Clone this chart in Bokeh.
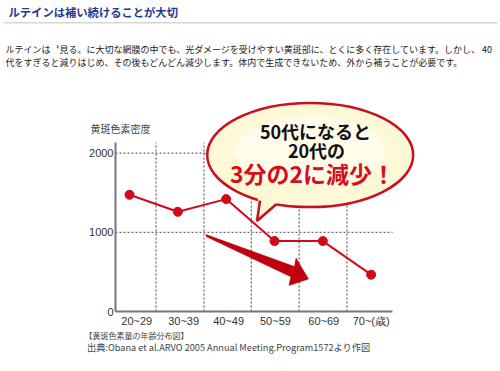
from bokeh.plotting import figure
from bokeh.models import Label, FixedTicker, Range1d, BoxAnnotation, ColumnDataSource
from bokeh.core.properties import value
from bokeh.embed import file_html
from bokeh.resources import INLINE

# ---- data ----
age_groups = ["20~29", "30~39", "40~49", "50~59", "60~69", "70~(歳)"]
density = [1475, 1260, 1420, 890, 890, 465]
y_ticks = [0, 1000, 2000]

title_text = "ルテインは補い続けることが大切"
body_line1 = "ルテインは〝見る〟に大切な網膜の中でも、光ダメージを受けやすい黄斑部に、とくに多く存在しています。しかし、 40"
body_line2 = "代をすぎると減りはじめ、その後もどんどん減少します。体内で生成できないため、外から補うことが必要です。"
y_title = "黄斑色素密度"
bubble_lines = ["50代になると", "20代の", "3分の2に減少！"]
foot1 = "【黄斑色素量の年齢分布図】"
foot2 = "出典:Obana et al.ARVO 2005 Annual Meeting.Program1572より作図"

# ---- layout helpers (page pixel -> data) ----
W, H = 500, 371
X0, XS = 129.0, 48.33     # page x of first category, px per category
Y0, YS = 311.0, 0.07915   # page y of value 0, px per unit
def dx(px):
    return (px - X0) / XS
def dy(py):
    return (Y0 - py) / YS

JP = "Noto Sans CJK JP"
RED = "#d00a1a"
GRAY = "#6a6a6a"

p = figure(width=W, height=H, output_backend="svg", toolbar_location=None,
           x_range=Range1d(dx(0), dx(W)), y_range=Range1d(dy(H), dy(0)),
           min_border=0, min_border_left=0, min_border_right=0,
           min_border_top=0, min_border_bottom=0)
p.outline_line_color = None
p.background_fill_color = "white"
p.xgrid.visible = False
p.ygrid.visible = False

top_val = dy(142)

# axes at fixed locations inside the full-canvas frame
label_pos = [0.15, 1.12, 2.05, 3.02, 4.02, 5.0]
xa = p.xaxis[0]
xa.fixed_location = 0
xa.bounds = (dx(115), dx(392))
xa.ticker = FixedTicker(ticks=label_pos)
xa.major_label_overrides = {lp: g for lp, g in zip(label_pos, age_groups)}
xa.axis_line_color = "#777777"
xa.axis_line_width = 2
xa.major_tick_line_color = None
xa.minor_tick_line_color = None
xa.major_label_text_font = "Liberation Sans"
xa.major_label_text_font_size = "11px"
xa.major_label_text_color = "#333333"
xa.major_label_standoff = -3

ya = p.yaxis[0]
ya.fixed_location = dx(115)
ya.bounds = (0, top_val)
ya.ticker = FixedTicker(ticks=y_ticks)
ya.axis_line_color = "#777777"
ya.axis_line_width = 2
ya.major_tick_line_color = None
ya.minor_tick_line_color = None
ya.major_label_text_font = "Liberation Sans"
ya.major_label_text_font_size = "11px"
ya.major_label_text_color = "#333333"
ya.major_label_standoff = -4

# dotted grid
boundaries = [0.55, 1.54, 2.52, 3.51, 4.50]
p.segment(x0=boundaries, x1=boundaries, y0=[0]*5, y1=[top_val]*5,
          line_color=GRAY, line_width=1.3, line_dash="2 2")
p.segment(x0=[dx(115)]*2, x1=[dx(392)]*2, y0=y_ticks[1:], y1=y_ticks[1:],
          line_color=GRAY, line_width=1.3, line_dash="2 2")

# data line
xs = list(range(len(density)))
src = ColumnDataSource(dict(x=xs, y=density))
p.line("x", "y", source=src, line_color=RED, line_width=2)
p.scatter("x", "y", source=src, size=9, fill_color=RED, line_color=RED)

# big red arrow
arrow_px = [(205.5, 234.0), (294.0, 266.1), (295.5, 257.5), (308.0, 278.5),
            (288.5, 285.0), (290.3, 276.3), (205.5, 236.0)]
p.patch([dx(a) for a, b in arrow_px], [dy(b) for a, b in arrow_px],
        fill_color="#c0000f", line_color="#b0000d", line_width=0.5)

# speech bubble
BX, BY = 309.7, 154.5
p.ellipse(x=[dx(BX)], y=[dy(BY)], width=[206], height=[104],
          width_units="screen", height_units="screen",
          fill_color="#fdf8d6", line_color="#c8101e", line_width=2.5)
p.ellipse(x=[dx(BX)], y=[dy(BY - 4)], width=[150], height=[70],
          width_units="screen", height_units="screen",
          fill_color="#fffdf0", line_color=None, fill_alpha=0.8)
tail_fill = [(257.5, 196.0), (281.0, 199.0), (256.5, 220.5)]
p.patch([dx(a) for a, b in tail_fill], [dy(b) for a, b in tail_fill],
        fill_color="#fdf8d6", line_color=None)
p.line([dx(259.5), dx(256.5), dx(276.0)], [dy(200.0), dy(220.5), dy(203.5)],
       line_color="#c8101e", line_width=2.5)

# bubble texts
p.text(x=[dx(315)], y=[dy(130)], text=[bubble_lines[0]], text_font=value(JP),
       text_font_size="18px", text_font_style="bold", text_color="#111111",
       text_align="center", text_baseline="middle")
p.text(x=[dx(316)], y=[dy(149)], text=[bubble_lines[1]], text_font=value(JP),
       text_font_size="18px", text_font_style="bold", text_color="#111111",
       text_align="center", text_baseline="middle")
p.text(x=[dx(312)], y=[dy(172)], text=[bubble_lines[2]], text_font=value(JP),
       text_font_size="23px", text_font_style="bold", text_color="#d40f1b",
       text_align="center", text_baseline="middle")

# header / footer texts
def lab(text, px, py, size, color, bold=False, align="left"):
    p.add_layout(Label(x=dx(px), y=dy(py), text=text, text_font=JP,
                       text_font_size=size, text_color=color,
                       text_font_style="bold" if bold else "normal",
                       text_align=align, text_baseline="middle"))

lab(title_text, 8, 11, "11.3px", "#1f3b8f", bold=True)
p.add_layout(BoxAnnotation(left=dx(3), right=dx(497), top=dy(21.5), bottom=dy(23),
                           fill_color="#d6d6d6", fill_alpha=1, line_color=None))
lab(body_line1, 5, 48.5, "9px", "#222222")
lab(body_line2, 5, 61.5, "9px", "#222222")
lab(y_title, 90, 128, "10px", "#444444")
lab(foot1, 84, 335, "8px", "#444444")
lab(foot2, 86.5, 346, "9.2px", "#444444")

open("out.html", "w").write(file_html(p, INLINE))
